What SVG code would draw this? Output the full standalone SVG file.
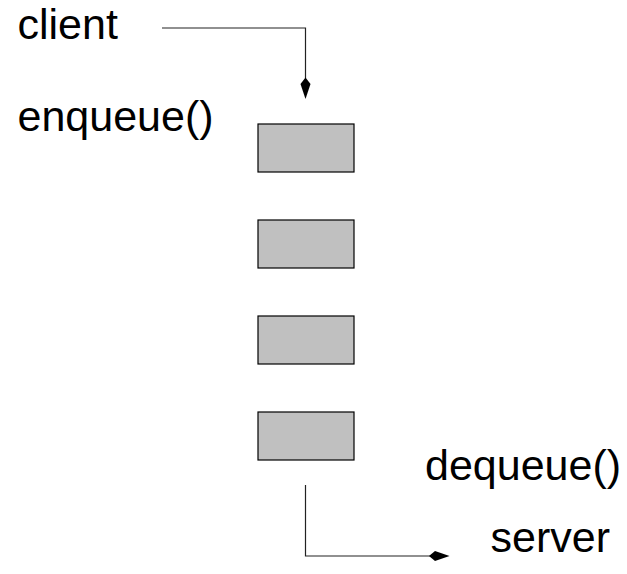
<svg xmlns="http://www.w3.org/2000/svg" width="627" height="574" viewBox="0 0 627 574">
<style>
.lbl{font-family:"Liberation Sans",Arial,sans-serif;font-size:43px;fill:#000}
.box{fill:#c0c0c0;stroke:#000;stroke-width:1.2}
.ln{fill:none;stroke:#222;stroke-width:1.2}
.ah{fill:#000;stroke:none}
</style>
<rect width="627" height="574" fill="#fff"/>
<g id="client"><text class="lbl" x="17.5" y="39">client</text></g>
<g id="enqueue"><text class="lbl" x="17.5" y="131">enqueue()</text></g>
<g id="dequeue"><text class="lbl" x="425" y="480">dequeue()</text></g>
<g id="server"><text class="lbl" x="490.5" y="552">server</text></g>
<g id="box1"><rect class="box" x="258" y="124" width="96" height="48"/></g>
<g id="box2"><rect class="box" x="258" y="220" width="96" height="48"/></g>
<g id="box3"><rect class="box" x="258" y="316" width="96" height="48"/></g>
<g id="box4"><rect class="box" x="258" y="412" width="96" height="48"/></g>
<g id="connectors">
<path class="ln" d="M162 28H305.5V80"/>
<polygon class="ah" points="305.5,77.5 300.5,84 305.5,99 310.5,84"/>
<path class="ln" d="M305.5 485V556H432"/>
<polygon class="ah" points="429,556 435,551 449.5,556 435,561"/>
</g>
</svg>
